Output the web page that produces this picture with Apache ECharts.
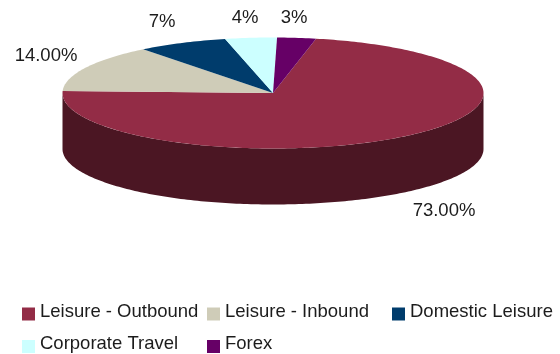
<!DOCTYPE html>
<html>
<head>
<meta charset="utf-8">
<style>html,body{margin:0;padding:0;background:#fff}#chart{width:560px;height:354px}</style>
<script src="https://cdn.jsdelivr.net/npm/echarts@6/dist/echarts.min.js"></script>
</head>
<body>
<div id="chart"></div>
<script>
// Revenue mix
var categories = ['Leisure - Outbound', 'Leisure - Inbound', 'Domestic Leisure', 'Corporate Travel', 'Forex'];
var values = [73, 14, 7, 4, 3];
var valueLabels = ['73.00%', '14.00%', '7%', '4%', '3%'];
var topColors = ['#932C46', '#CFCCB8', '#003C6C', '#CCFFFF', '#660066'];
var wallColors = ['#4B1623', '#68665C', '#001E36', '#668080', '#330033'];

// Tilted disc geometry, label placement and legend slots
var disc = { cx: 273, cy: 93, rx: 210.5, ry: 55.5, depth: 56, startDeg: 11.8 };
var labelCentres = [[444, 211], [46, 56], [162, 22], [245, 18], [294, 18]];
var legendSlots = [[22, 302], [207, 302], [392, 302], [22, 334.5], [207, 334.5]];
var textColor = '#1c1c1c';
var fontFamily = '"Liberation Sans", Arial, sans-serif';
var fontSize = 18.5;

var total = values.reduce(function (a, b) { return a + b; }, 0);

function rimPoint(deg, dy) {
  var t = deg * Math.PI / 180;
  return [disc.cx + disc.rx * Math.sin(t), disc.cy - disc.ry * Math.cos(t) + (dy || 0)];
}

function arc(from, to, dy) {
  var pts = [];
  var n = Math.max(2, Math.ceil(Math.abs(to - from)));
  for (var i = 0; i <= n; i++) pts.push(rimPoint(from + (to - from) * i / n, dy));
  return pts;
}

// Start and end of a slice, clockwise from twelve o'clock
function sliceSpan(index) {
  var before = values.slice(0, index).reduce(function (a, b) { return a + b; }, 0);
  var from = disc.startDeg + before / total * 360;
  return [from, from + values[index] / total * 360];
}

function renderSlice(index) {
  var span = sliceSpan(index);
  var children = [];
  // The wall only shows along the near half of the rim (90 to 270 degrees)
  var wallFrom = Math.max(span[0], 90);
  var wallTo = Math.min(span[1], 270);
  if (wallTo > wallFrom) {
    var upper = arc(wallFrom, wallTo, 0);
    var lower = arc(wallTo, wallFrom, disc.depth);
    children.push({
      type: 'polygon',
      shape: { points: upper.concat(lower) },
      style: { fill: wallColors[index] }
    });
  }
  children.push({
    type: 'polygon',
    shape: { points: [[disc.cx, disc.cy]].concat(arc(span[0], span[1], 0)) },
    style: { fill: topColors[index] }
  });
  children.push({
    type: 'text',
    style: {
      x: labelCentres[index][0],
      y: labelCentres[index][1],
      text: valueLabels[index],
      fill: textColor,
      font: fontSize + 'px ' + fontFamily,
      align: 'center',
      verticalAlign: 'middle'
    }
  });
  return { type: 'group', children: children };
}

// One legend per entry so the entries sit in fixed columns; the empty second
// line lifts the caption slightly above the centre of its swatch
function legendEntry(name, index) {
  return {
    left: legendSlots[index][0],
    top: legendSlots[index][1],
    data: [name],
    itemWidth: 13,
    itemHeight: 13,
    icon: 'rect',
    padding: 0,
    selectedMode: false,
    formatter: '{t|{name}}\n{s| }',
    textStyle: {
      rich: {
        t: { fontFamily: fontFamily, fontSize: fontSize, color: textColor, lineHeight: 20 },
        s: { fontSize: 1, lineHeight: 5 }
      }
    }
  };
}

var option = {
  animation: false,
  backgroundColor: '#ffffff',
  legend: categories.map(legendEntry),
  series: categories.map(function (name, index) {
    return {
      type: 'custom',
      name: name,
      coordinateSystem: 'none',
      silent: true,
      itemStyle: { color: topColors[index] },
      data: [values[index]],
      renderItem: function () { return renderSlice(index); }
    };
  })
};

echarts.init(document.getElementById('chart'), null, { renderer: 'canvas' }).setOption(option);
</script>
</body>
</html>
